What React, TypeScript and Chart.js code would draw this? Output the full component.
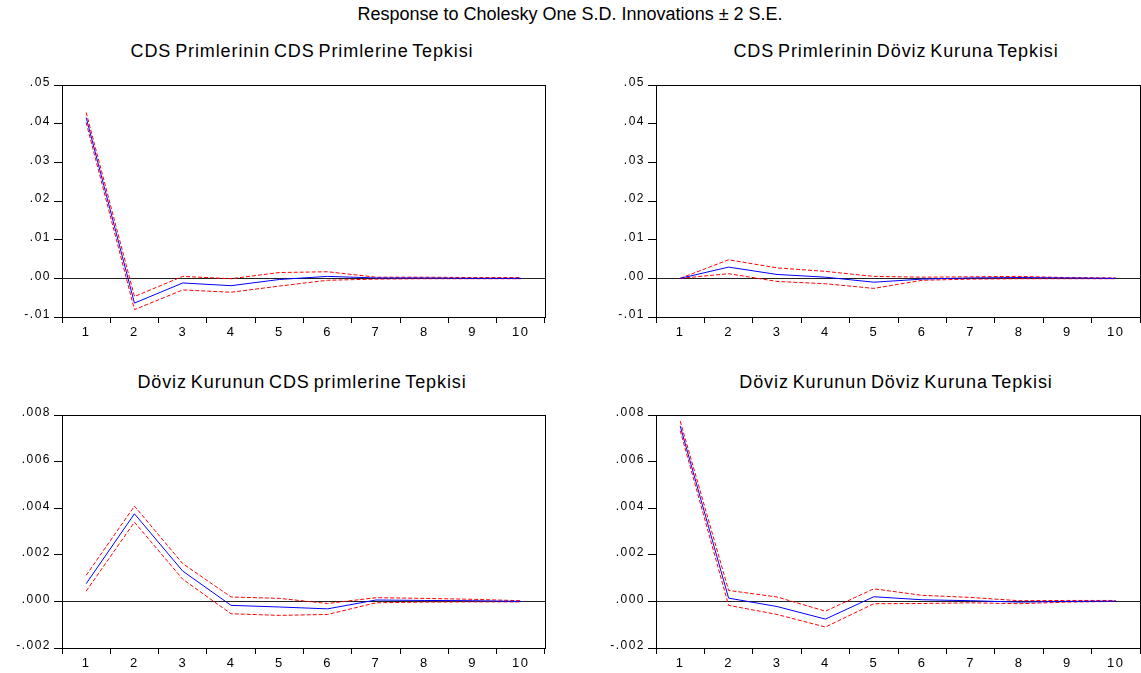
import React, { useEffect, useRef } from "react";
import { Chart, registerables } from "chart.js";

Chart.register(...registerables);

const FONT = "'Liberation Sans', Arial, sans-serif";

const mainTitle = "Response to Cholesky One S.D. Innovations ± 2 S.E.";
const periods = ["1", "2", "3", "4", "5", "6", "7", "8", "9", "10"];

// CDS Primlerinin CDS Primlerine Tepkisi
const cdsCdsResponse = [0.0416, -0.0064, -0.0012, -0.0019, -0.0003, 0.0005, 0.0001, 0.0001, 0.0, 0.0];
const cdsCdsUpper = [0.0429, -0.0047, 0.0005, -0.0001, 0.0015, 0.0017, 0.0003, 0.0003, 0.0002, 0.0002];
const cdsCdsLower = [0.0403, -0.0081, -0.003, -0.0036, -0.002, -0.0005, -0.0002, -0.0001, -0.0001, -0.0001];

// CDS Primlerinin Döviz Kuruna Tepkisi
const cdsFxResponse = [0.0, 0.0029, 0.001, 0.0003, -0.001, -0.0002, 0.0001, 0.0002, 0.0001, 0.0];
const cdsFxUpper = [0.0, 0.0048, 0.0027, 0.0018, 0.0005, 0.0003, 0.0004, 0.0005, 0.0002, 0.0001];
const cdsFxLower = [0.0, 0.0012, -0.0008, -0.0014, -0.0026, -0.0005, -0.0002, -0.0001, -0.0001, -0.0001];

// Döviz Kurunun CDS primlerine Tepkisi
const fxCdsResponse = [0.00076, 0.00376, 0.0013, -0.00017, -0.00024, -0.00032, 0.00006, 0.00004, 0.00003, 0.0];
const fxCdsUpper = [0.00112, 0.00409, 0.00162, 0.00019, 0.00013, -0.00009, 0.00016, 0.00013, 0.00009, 0.00003];
const fxCdsLower = [0.00044, 0.0034, 0.00095, -0.00053, -0.0006, -0.00056, -0.00006, -0.00003, -0.00002, -0.00002];

// Döviz Kurunun Döviz Kuruna Tepkisi
const fxFxResponse = [0.00753, 0.00014, -0.00022, -0.00076, 0.0002, 0.00007, 0.00003, -0.00003, 0.0, 0.00001];
const fxFxUpper = [0.00774, 0.00047, 0.00019, -0.00042, 0.00054, 0.00026, 0.00017, 0.00003, 0.00004, 0.00004];
const fxFxLower = [0.00733, -0.00017, -0.00056, -0.0011, -0.0001, -0.00009, -0.00006, -0.0001, -0.00003, 0.0];

const topAxis = { min: -0.01, max: 0.05, step: 0.01, decimals: 2 };
const bottomAxis = { min: -0.002, max: 0.008, step: 0.002, decimals: 3 };

const fmt = (v: number, d: number) => {
  const s = Number(v).toFixed(d);
  return s.replace(/^(-?)0\./, "$1.");
};

const framePlugin = {
  id: "evFrame",
  beforeDraw(chart: any) {
    try {
      (chart.ctx as any).letterSpacing = "1.5px";
    } catch (e) {}
  },
  beforeDatasetsDraw(chart: any) {
    const { ctx, chartArea } = chart;
    const y = Math.round(chart.scales.y.getPixelForValue(0)) + 0.5;
    ctx.save();
    ctx.strokeStyle = "#222";
    ctx.lineWidth = 1;
    ctx.beginPath();
    ctx.moveTo(chartArea.left, y);
    ctx.lineTo(chartArea.right, y);
    ctx.stroke();
    ctx.restore();
  },
  afterDraw(chart: any) {
    const { ctx, chartArea } = chart;
    ctx.save();
    ctx.strokeStyle = "#000";
    ctx.lineWidth = 1;
    ctx.strokeRect(
      Math.round(chartArea.left) + 0.5,
      Math.round(chartArea.top) + 0.5,
      Math.round(chartArea.right - chartArea.left),
      Math.round(chartArea.bottom - chartArea.top)
    );
    ctx.restore();
    try {
      (ctx as any).letterSpacing = "0px";
    } catch (e) {}
  },
};

type PanelProps = {
  left: number;
  top: number;
  width: number;
  height: number;
  yWidth: number;
  padTop: number;
  padRight: number;
  xHeight: number;
  axis: { min: number; max: number; step: number; decimals: number };
  response: number[];
  upper: number[];
  lower: number[];
};

function Panel(p: PanelProps) {
  const ref = useRef<HTMLCanvasElement | null>(null);
  useEffect(() => {
    if (!ref.current) return;
    const redDash = {
      borderColor: "#ff0000",
      borderWidth: 1,
      borderDash: [4, 2],
      pointRadius: 0,
      tension: 0,
      fill: false,
    };
    const chart = new Chart(ref.current, {
      type: "line",
      data: {
        labels: periods,
        datasets: [
          { label: "Response", data: p.response, borderColor: "#0000ff", borderWidth: 1, pointRadius: 0, tension: 0, fill: false },
          { label: "+2 S.E.", data: p.upper, ...redDash },
          { label: "-2 S.E.", data: p.lower, ...redDash },
        ],
      },
      options: {
        animation: false,
        responsive: false,
        layout: { padding: { top: p.padTop, right: p.padRight, left: 0, bottom: 0 } },
        plugins: { legend: { display: false }, tooltip: { enabled: false }, title: { display: false } },
        scales: {
          x: {
            offset: true,
            grid: { offset: true, drawOnChartArea: false, tickLength: 6, color: "#000", lineWidth: 1 },
            border: { color: "#000" },
            ticks: { color: "#000", font: { family: FONT, size: 13 }, padding: 2, maxRotation: 0, autoSkip: false },
            afterFit: (s: any) => {
              s.height = p.xHeight;
            },
          },
          y: {
            min: p.axis.min,
            max: p.axis.max,
            grid: { drawOnChartArea: false, tickLength: 8, color: "#000", lineWidth: 1 },
            border: { color: "#000" },
            ticks: {
              stepSize: p.axis.step,
              color: "#000",
              font: { family: FONT, size: 12 },
              padding: 3,
              labelOffset: -2,
              callback: (v: any) => fmt(Number(v), p.axis.decimals),
            },
            afterFit: (s: any) => {
              s.width = p.yWidth;
            },
          },
        },
      },
      plugins: [framePlugin],
    } as any);
    return () => chart.destroy();
  }, []);
  return (
    <canvas
      ref={ref}
      width={p.width}
      height={p.height}
      style={{ position: "absolute", left: p.left, top: p.top, width: p.width, height: p.height }}
    />
  );
}

const titleStyle = (x: number, y: number, size: number, spacing: number, wordGap: number): React.CSSProperties => ({
  position: "absolute",
  left: x,
  top: y,
  transform: "translate(-50%, -50%)",
  whiteSpace: "nowrap",
  fontFamily: FONT,
  fontSize: size,
  letterSpacing: spacing,
  wordSpacing: wordGap,
  lineHeight: 1,
  color: "#000",
});

export default function App() {
  return (
    <div style={{ position: "fixed", left: 0, top: 0, width: 1141, height: 673, background: "#fff", overflow: "hidden" }}>
      <div style={titleStyle(570, 14, 18, 0, 0)}>{mainTitle}</div>
      <div style={titleStyle(302, 51, 18, 0.9, -2)}>CDS Primlerinin CDS Primlerine Tepkisi</div>
      <div style={titleStyle(896, 51, 18, 0.9, -2)}>CDS Primlerinin Döviz Kuruna Tepkisi</div>
      <div style={titleStyle(302, 382, 18, 0.9, -2)}>Döviz Kurunun CDS primlerine Tepkisi</div>
      <div style={titleStyle(896, 382, 18, 0.9, -2)}>Döviz Kurunun Döviz Kuruna Tepkisi</div>

      <Panel left={0} top={60} width={570} height={290} yWidth={62} padTop={25} padRight={25} xHeight={33}
        axis={topAxis} response={cdsCdsResponse} upper={cdsCdsUpper} lower={cdsCdsLower} />
      <Panel left={570} top={60} width={571} height={290} yWidth={86} padTop={25} padRight={1} xHeight={33}
        axis={topAxis} response={cdsFxResponse} upper={cdsFxUpper} lower={cdsFxLower} />
      <Panel left={0} top={390} width={570} height={283} yWidth={62} padTop={25} padRight={25} xHeight={25}
        axis={bottomAxis} response={fxCdsResponse} upper={fxCdsUpper} lower={fxCdsLower} />
      <Panel left={570} top={390} width={571} height={283} yWidth={86} padTop={25} padRight={1} xHeight={25}
        axis={bottomAxis} response={fxFxResponse} upper={fxFxUpper} lower={fxFxLower} />
    </div>
  );
}
